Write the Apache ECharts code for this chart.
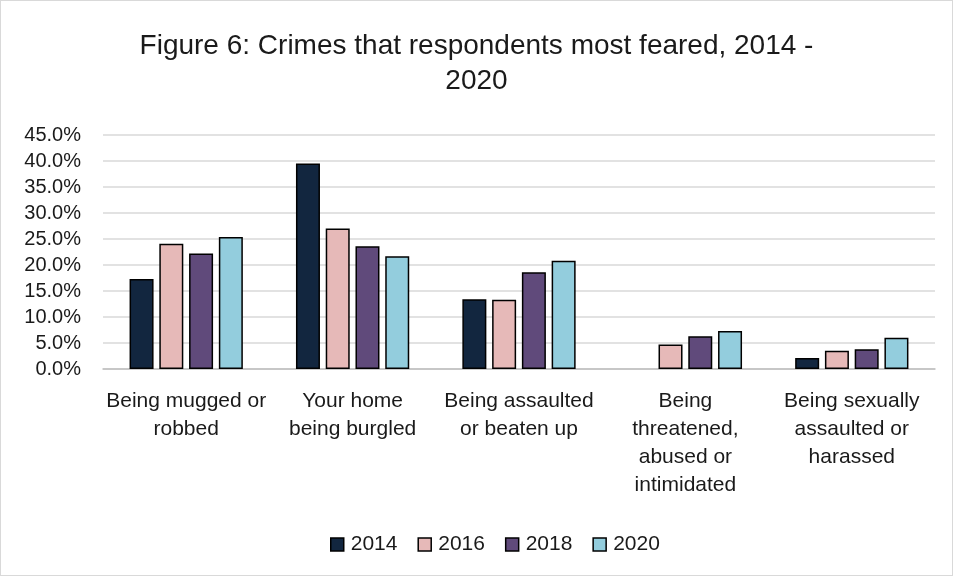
<!DOCTYPE html>
<html>
<head>
<meta charset="utf-8">
<script src="https://cdn.jsdelivr.net/npm/echarts@6/dist/echarts.min.js"></script>
<style>
  html, body { margin: 0; padding: 0; background: #fff; }
  #chart { width: 951px; height: 574px; border: 1px solid #d9d9d9; }
</style>
</head>
<body>
<div id="chart"></div>
<script>
// data
const categories = [
  'Being mugged or\nrobbed',
  'Your home\nbeing burgled',
  'Being assaulted\nor beaten up',
  'Being\nthreatened,\nabused or\nintimidated',
  'Being sexually\nassaulted or\nharassed'
];
const years = ['2014', '2016', '2018', '2020'];
const values2014 = [17.3, 39.5, 13.4, null, 2.1];
const values2016 = [24.1, 27.0, 13.3, 4.7, 3.5];
const values2018 = [22.2, 23.6, 18.6, 6.3, 3.8];
const values2020 = [25.4, 21.7, 20.8, 7.3, 6.0];
const colors = ['#12263f', '#e6b9b8', '#604a7b', '#93cddd'];

const fontFamily = '"Liberation Sans", Arial, sans-serif';
const textColor = '#1a1a1a';

const chart = echarts.init(document.getElementById('chart'));

const seriesData = [values2014, values2016, values2018, values2020];

chart.setOption({
  backgroundColor: '#fff',
  textStyle: { fontFamily: fontFamily, color: textColor },
  title: {
    text: 'Figure 6: Crimes that respondents most feared, 2014 -\n2020',
    left: 'center',
    top: 23,
    textStyle: { fontSize: 28, fontWeight: 'normal', color: textColor, lineHeight: 35, fontFamily: fontFamily }
  },
  legend: {
    data: years,
    left: 324,
    top: 528,
    itemWidth: 13,
    itemHeight: 13,
    itemGap: 20,
    icon: 'rect',
    textStyle: { fontSize: 21, color: textColor, fontFamily: fontFamily, padding: [0, 0, 0, 2] },
    itemStyle: { borderColor: '#000', borderWidth: 1.5 }
  },
  grid: { left: 102, right: 17, top: 134, bottom: 206, containLabel: false },
  xAxis: {
    type: 'category',
    data: categories,
    axisTick: { show: false },
    axisLine: { lineStyle: { color: '#bfbfbf', width: 1.5 } },
    axisLabel: {
      interval: 0,
      margin: 18,
      fontSize: 21,
      lineHeight: 28,
      color: textColor,
      fontFamily: fontFamily
    }
  },
  yAxis: {
    type: 'value',
    min: 0,
    max: 45,
    interval: 5,
    axisLine: { show: false },
    axisTick: { show: false },
    splitLine: { lineStyle: { color: '#d9d9d9', width: 1.5 } },
    axisLabel: {
      margin: 22,
      fontSize: 20,
      color: textColor,
      fontFamily: fontFamily,
      formatter: (v) => v.toFixed(1) + '%'
    }
  },
  series: years.map((y, i) => ({
    name: y,
    type: 'bar',
    data: seriesData[i],
    barWidth: 24,
    barGap: '24%',
    itemStyle: { color: colors[i], borderColor: '#000', borderWidth: 1.5 }
  }))
});
</script>
</body>
</html>
